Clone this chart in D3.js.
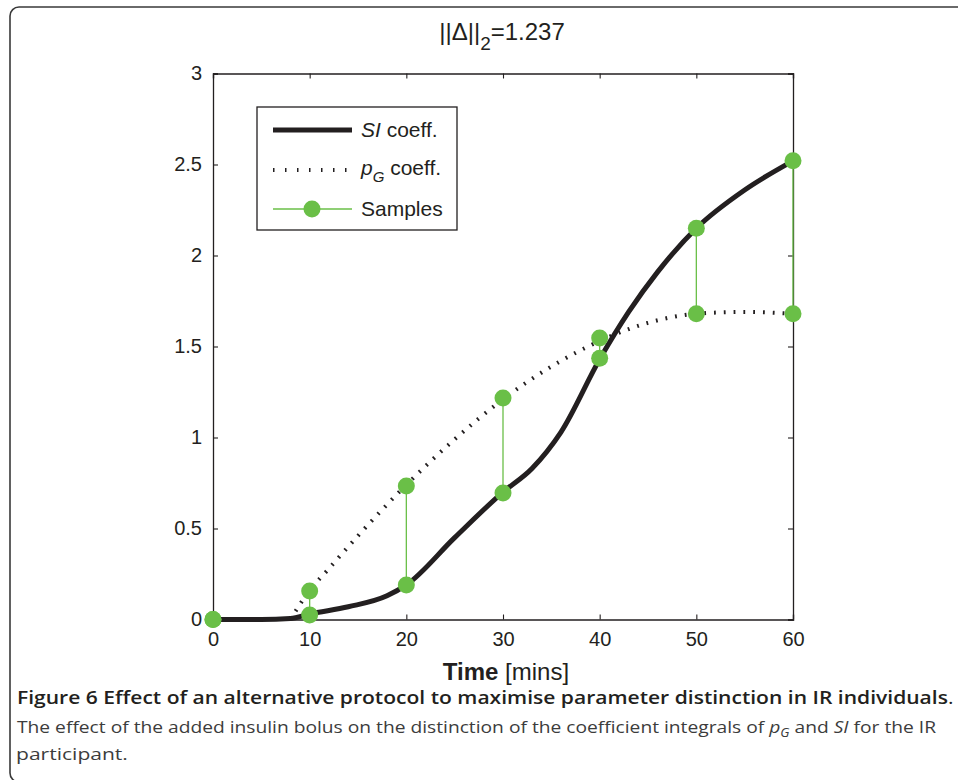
<!DOCTYPE html>
<html><head><meta charset="utf-8">
<script src="https://cdn.jsdelivr.net/npm/d3@7"></script>
<style>html,body{margin:0;padding:0;background:#fff;}svg{display:block;}</style>
</head><body>
<script>
// Data
const siTime = [0, 5, 8, 10, 14, 18, 20, 25, 30, 33, 36, 40, 43, 46, 50, 55, 60];
const siValue = [0, 0, 0.005, 0.03, 0.07, 0.13, 0.19, 0.45, 0.70, 0.83, 1.03, 1.43, 1.69, 1.91, 2.15, 2.36, 2.52];
const pgTime = [8, 10, 12, 15, 20, 25, 30, 35, 40, 45, 50, 55, 60];
const pgValue = [0, 0.16, 0.28, 0.46, 0.74, 0.99, 1.21, 1.39, 1.53, 1.63, 1.68, 1.69, 1.68];
const sampleTime = [0, 10, 20, 30, 40, 50, 60];
const sampleSI = [0, 0.025, 0.19, 0.695, 1.435, 2.15, 2.52];
const samplePG = [0, 0.157, 0.734, 1.217, 1.547, 1.68, 1.68];
const xTicks = [0, 10, 20, 30, 40, 50, 60];
const yTicks = [0, 0.5, 1, 1.5, 2, 2.5, 3];

const W = 958, H = 780;
const ink = "#231f20", green = "#6abf47";
const svg = d3.select("body").append("svg").attr("width", W).attr("height", H);

// outer frame
svg.append("rect").attr("x", 10).attr("y", 7).attr("width", 1000).attr("height", 775)
  .attr("rx", 9).attr("fill", "none").attr("stroke", "#3a3a3a").attr("stroke-width", 1.6);

const L = 213, R = 793, T = 73.5, B = 619.5;
const x = d3.scaleLinear().domain([0, 60]).range([L, R]);
const y = d3.scaleLinear().domain([0, 3]).range([B, T]);
const font = "'Liberation Sans', Arial, sans-serif";

// axes
const gx = svg.append("g").attr("transform", `translate(0,${B})`)
  .call(d3.axisBottom(x).tickValues(xTicks).tickSize(-5).tickPadding(12).tickFormat(d3.format("d")));
const gxt = svg.append("g").attr("transform", `translate(0,${T})`)
  .call(d3.axisTop(x).tickValues(xTicks).tickSize(-5).tickFormat(""));
const gy = svg.append("g").attr("transform", `translate(${L},0)`)
  .call(d3.axisLeft(y).tickValues(yTicks).tickSize(-5).tickPadding(11).tickFormat(d => d3.format("")(d)));
const gyr = svg.append("g").attr("transform", `translate(${R},0)`)
  .call(d3.axisRight(y).tickValues(yTicks).tickSize(-5).tickFormat(""));
[gx, gxt, gy, gyr].forEach(g => {
  g.select(".domain").attr("stroke", ink).attr("stroke-width", 1.3);
  g.selectAll(".tick line").attr("stroke", ink).attr("stroke-width", 1.1);
  g.selectAll("text").attr("font-family", font).attr("font-size", 20).attr("fill", ink);
});
gx.selectAll("text").attr("dy", "0.71em");

// green connectors
svg.append("g").selectAll("line").data(sampleTime).join("line")
  .attr("x1", d => x(d)).attr("x2", d => x(d))
  .attr("y1", (d, i) => y(sampleSI[i])).attr("y2", (d, i) => y(samplePG[i]))
  .attr("stroke", green).attr("stroke-width", 1.3);

// pG dotted
const pgLine = d3.line().x((d, i) => x(pgTime[i])).y(d => y(d)).curve(d3.curveMonotoneX);
svg.append("path").attr("d", pgLine(pgValue)).attr("fill", "none")
  .attr("stroke", ink).attr("stroke-width", 4).attr("stroke-dasharray", "1.8,8");

// SI solid
const siLine = d3.line().x((d, i) => x(siTime[i])).y(d => y(d)).curve(d3.curveMonotoneX);
svg.append("path").attr("d", siLine(siValue)).attr("fill", "none")
  .attr("stroke", ink).attr("stroke-width", 5).attr("stroke-linejoin", "round");

// sample markers
const mk = svg.append("g");
mk.selectAll("circle.si").data(sampleTime).join("circle").attr("class", "si")
  .attr("cx", d => x(d)).attr("cy", (d, i) => y(sampleSI[i])).attr("r", 8.5).attr("fill", green);
mk.selectAll("circle.pg").data(sampleTime).join("circle").attr("class", "pg")
  .attr("cx", d => x(d)).attr("cy", (d, i) => y(samplePG[i])).attr("r", 8.5).attr("fill", green);

// title
const title = svg.append("text").attr("x", 502).attr("y", 40).attr("text-anchor", "middle")
  .attr("font-family", font).attr("font-size", 24).attr("fill", ink);
title.append("tspan").text("||Δ||");
title.append("tspan").attr("dy", 10).attr("font-size", 19).text("2");
title.append("tspan").attr("dy", -10).text("=1.237");

// x label
const xl = svg.append("text").attr("x", 506).attr("y", 680).attr("text-anchor", "middle")
  .attr("font-family", font).attr("font-size", 24).attr("fill", ink);
xl.append("tspan").attr("font-weight", "bold").text("Time");
xl.append("tspan").text(" [mins]");

// legend
const lg = svg.append("g");
lg.append("rect").attr("x", 257).attr("y", 107).attr("width", 200).attr("height", 123)
  .attr("fill", "#fff").attr("stroke", ink).attr("stroke-width", 1.3);
const rows = [130, 170, 209];
lg.append("line").attr("x1", 273).attr("x2", 352).attr("y1", rows[0]).attr("y2", rows[0])
  .attr("stroke", ink).attr("stroke-width", 5);
lg.append("line").attr("x1", 273).attr("x2", 352).attr("y1", rows[1]).attr("y2", rows[1])
  .attr("stroke", ink).attr("stroke-width", 4).attr("stroke-dasharray", "1.5,10.5");
lg.append("line").attr("x1", 273).attr("x2", 352).attr("y1", rows[2]).attr("y2", rows[2])
  .attr("stroke", green).attr("stroke-width", 1.3);
lg.append("circle").attr("cx", 312).attr("cy", rows[2]).attr("r", 8.5).attr("fill", green);
const lt1 = lg.append("text").attr("x", 361).attr("y", rows[0] + 7).attr("font-family", font).attr("font-size", 21).attr("fill", ink);
lt1.append("tspan").attr("font-style", "italic").text("SI");
lt1.append("tspan").text(" coeff.");
const lt2 = lg.append("text").attr("x", 361).attr("y", rows[1] + 5).attr("font-family", font).attr("font-size", 21).attr("fill", ink);
lt2.append("tspan").attr("font-style", "italic").text("p");
lt2.append("tspan").attr("font-style", "italic").attr("font-size", 15).attr("dy", 7).text("G");
lt2.append("tspan").attr("dy", -7).text(" coeff.");
lg.append("text").attr("x", 361).attr("y", rows[2] + 7).attr("font-family", font).attr("font-size", 21).attr("fill", ink).text("Samples");

// caption
const cf = "'Open Sans', 'Noto Sans', sans-serif";
function fit(sel, x0, yb, target) {
  const w = sel.node().getComputedTextLength();
  sel.attr("x", 0).attr("y", 0).attr("transform", `translate(${x0},${yb}) scale(${target / w},1)`);
}
const c1 = svg.append("text").attr("font-family", cf).attr("font-size", 18).attr("fill", ink);
c1.append("tspan").attr("font-weight", 600).text("Figure 6 Effect of an alternative protocol to maximise parameter distinction in IR individuals");
c1.append("tspan").text(".");
fit(c1, 17, 704, 937);
const c2 = svg.append("text").attr("font-family", cf).attr("font-size", 17).attr("fill", "#3c3c3c");
c2.append("tspan").text("The effect of the added insulin bolus on the distinction of the coefficient integrals of ");
c2.append("tspan").attr("font-style", "italic").text("p");
c2.append("tspan").attr("font-style", "italic").attr("font-size", 12).attr("dy", 4).text("G");
c2.append("tspan").attr("dy", -4).text(" and ");
c2.append("tspan").attr("font-style", "italic").text("SI");
c2.append("tspan").text(" for the IR");
fit(c2, 17, 733, 920);
const c3 = svg.append("text").attr("font-family", cf).attr("font-size", 17).attr("fill", "#3c3c3c").text("participant.");
fit(c3, 16, 760, 112);
</script>
</body></html>
